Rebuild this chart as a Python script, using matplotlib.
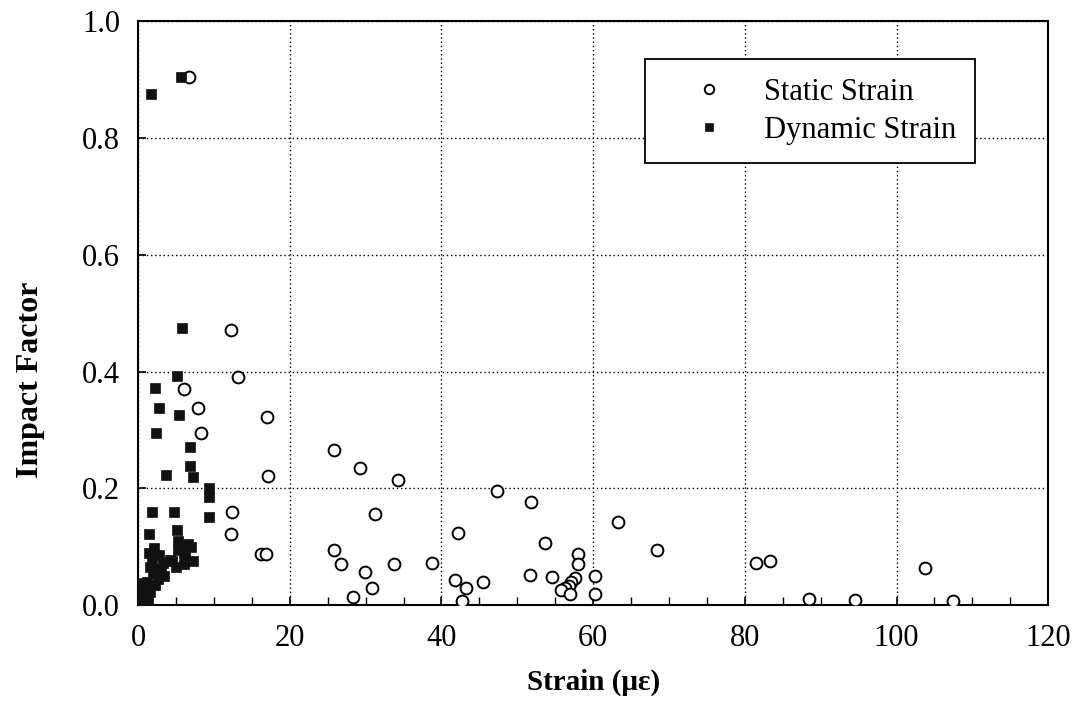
import matplotlib
matplotlib.use("Agg")
import matplotlib.pyplot as plt
from matplotlib.ticker import MultipleLocator

plt.rcParams['font.family'] = ['Liberation Serif', 'DejaVu Serif']

# Static strain readings (microstrain) and impact factors
static_strain = [6.7, 12.2, 13.2, 6.0, 7.9, 17.0, 8.3, 17.1, 12.4, 12.3, 16.2, 16.9,
                 25.9, 29.3, 34.3, 31.3, 25.8, 26.8, 29.9, 30.8, 28.3, 33.7, 38.7,
                 42.2, 41.8, 43.3, 42.7, 45.5, 47.3, 51.8, 63.3, 53.6, 68.4, 58.0,
                 58.0, 51.7, 54.6, 60.2, 60.2, 57.6, 57.1, 56.8, 56.3, 55.7, 57.0,
                 81.5, 83.3, 88.5, 94.5, 103.8, 107.5]
static_impact = [0.905, 0.472, 0.390, 0.370, 0.337, 0.322, 0.294, 0.221, 0.160, 0.121,
                 0.087, 0.088, 0.266, 0.234, 0.215, 0.156, 0.094, 0.071, 0.056, 0.030,
                 0.014, 0.070, 0.072, 0.124, 0.043, 0.030, 0.007, 0.039, 0.195, 0.177,
                 0.142, 0.106, 0.095, 0.088, 0.071, 0.051, 0.048, 0.050, 0.019, 0.046,
                 0.039, 0.033, 0.029, 0.026, 0.019, 0.072, 0.076, 0.010, 0.008, 0.063,
                 0.007]

# Dynamic strain readings (microstrain) and impact factors
dynamic_strain = [1.7, 5.7, 5.8, 5.1, 2.2, 2.7, 5.4, 2.4, 6.9, 6.9, 7.3, 3.7, 9.4, 9.4,
                  9.3, 1.9, 4.8, 1.5, 5.2, 5.3, 5.3, 6.1, 7.0, 7.3, 6.2, 4.2, 1.4, 2.1,
                  2.8, 3.3, 2.5, 3.4, 1.8, 2.0, 1.6, 2.6, 1.2, 0.5, 1.6, 0.4, 0.2, 0.8,
                  1.0, 0.3, 6.6, 4.5, 3.0, 2.3, 1.3, 6.0, 5.0]
dynamic_impact = [0.875, 0.905, 0.475, 0.392, 0.372, 0.338, 0.325, 0.294, 0.270, 0.238,
                  0.220, 0.223, 0.200, 0.185, 0.150, 0.160, 0.160, 0.122, 0.128, 0.110,
                  0.095, 0.090, 0.100, 0.075, 0.082, 0.078, 0.090, 0.098, 0.085, 0.072,
                  0.062, 0.050, 0.075, 0.055, 0.065, 0.045, 0.040, 0.038, 0.022, 0.022,
                  0.012, 0.030, 0.010, 0.005, 0.105, 0.075, 0.060, 0.035, 0.005, 0.070,
                  0.065]

x_ticks = [0, 20, 40, 60, 80, 100, 120]
y_ticks = [0.0, 0.2, 0.4, 0.6, 0.8, 1.0]
y_tick_labels = ['0.0', '0.2', '0.4', '0.6', '0.8', '1.0']

fig = plt.figure(figsize=(10.81, 7.16), dpi=100)
ax = fig.add_axes([0.1277, 0.155, 0.842, 0.815])

ax.plot(static_strain, static_impact, linestyle='none', marker='o', markersize=8.5,
        markerfacecolor='white', markeredgecolor='black', markeredgewidth=1.4,
        label='Static Strain', zorder=3)
ax.plot(dynamic_strain, dynamic_impact, linestyle='none', marker='s', markersize=7.8,
        markerfacecolor='#111111', markeredgecolor='#111111', markeredgewidth=0.5,
        label='Dynamic Strain', zorder=4)

ax.set_xlim(0, 120)
ax.set_ylim(0, 1.0)
ax.set_xticks(x_ticks)
ax.set_xticklabels([str(v) for v in x_ticks])
ax.set_yticks(y_ticks)
ax.set_yticklabels(y_tick_labels)
ax.xaxis.set_minor_locator(MultipleLocator(5))

ax.grid(True, which='major', linestyle=(0, (1, 2)), linewidth=1.0, color='black')
ax.tick_params(axis='both', which='major', direction='in', length=6, width=1.2,
               labelsize=22, colors='black')
ax.tick_params(axis='x', which='major', pad=14)
ax.tick_params(axis='y', which='major', pad=13)
ax.tick_params(axis='x', which='minor', direction='in', length=6, width=1.0)
for s in ax.spines.values():
    s.set_linewidth(1.5)
    s.set_color('black')

ax.set_xlabel('Strain (\u03bc\u03b5)', fontsize=21, fontweight='bold', labelpad=11)
ax.set_ylabel('Impact Factor', fontsize=23, fontweight='bold')
ax.yaxis.set_label_coords(-0.102, 0.386)

leg = ax.legend(loc='upper right', bbox_to_anchor=(0.919, 0.935), fontsize=22,
                frameon=True, fancybox=False, shadow=False, handlelength=3.0,
                handletextpad=0.3, borderpad=0.6, labelspacing=0.3, borderaxespad=0,
                markerscale=0.8)
leg.get_frame().set_edgecolor('black')
leg.get_frame().set_linewidth(1.3)
leg.get_frame().set_alpha(1.0)

fig.savefig('out.png', dpi=100, facecolor='white')
